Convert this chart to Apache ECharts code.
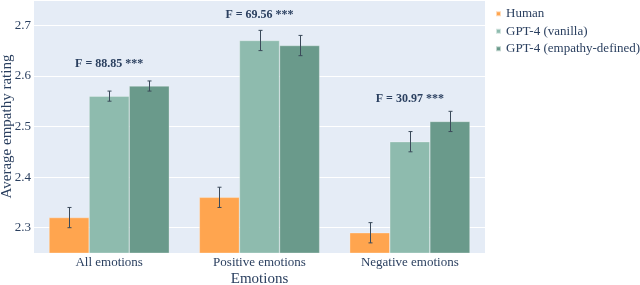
<!DOCTYPE html>
<html>
<head>
<meta charset="utf-8">
<script src="https://cdn.jsdelivr.net/npm/echarts@6/dist/echarts.min.js"></script>
<style>html,body{margin:0;padding:0;background:#fff;}#c{width:640px;height:285px;}</style>
</head>
<body>
<div id="c"></div>
<script>
var categories = ['All emotions', 'Positive emotions', 'Negative emotions'];
var seriesNames = ['Human', 'GPT-4 (vanilla)', 'GPT-4 (empathy-defined)'];
var human = [2.32, 2.36, 2.29];
var vanilla = [2.56, 2.67, 2.47];
var empathy = [2.58, 2.66, 2.51];
var humanErr = [0.02, 0.02, 0.02];
var vanillaErr = [0.01, 0.02, 0.02];
var empathyErr = [0.01, 0.02, 0.02];
var fLabels = ['F = 88.85 ***', 'F = 69.56 ***', 'F = 30.97 ***'];
var fLabelY = [2.623, 2.72, 2.554];
var yTicks = [2.3, 2.4, 2.5, 2.6, 2.7];

var colors = ['#FFA54F', '#8EBBAE', '#6A9A8B'];
var textColor = '#2a3f5f';
var font = '"Liberation Serif", "Times New Roman", serif';

var values = [human, vanilla, empathy];
var errs = [humanErr, vanillaErr, empathyErr];

var errData = [];
for (var s = 0; s < 3; s++) {
  for (var c = 0; c < categories.length; c++) {
    errData.push([c, values[s][c] - errs[s][c], values[s][c] + errs[s][c], s]);
  }
}
var annData = [];
for (var c2 = 0; c2 < categories.length; c2++) {
  annData.push([c2, fLabelY[c2], fLabels[c2]]);
}

var barSeries = seriesNames.map(function (n, i) {
  return {
    name: n,
    type: 'bar',
    data: values[i],
    barGap: '0%',
    barCategoryGap: '20%',
    itemStyle: { color: colors[i], borderColor: 'rgba(255,255,255,0.6)', borderWidth: 0.5 },
    z: 2
  };
});

var chart = echarts.init(document.getElementById('c'), null, { renderer: 'canvas' });
chart.setOption({
  backgroundColor: '#fff',
  animation: false,
  textStyle: { fontFamily: font },
  grid: { left: 34, right: 155, top: 0, bottom: 32, backgroundColor: '#E5ECF6', show: true, borderWidth: 0, containLabel: false, outerBoundsMode: 'none' },
  legend: {
    data: seriesNames,
    orient: 'vertical',
    left: 495,
    top: 3,
    padding: [4, 0, 0, 0],
    icon: 'rect',
    itemWidth: 5,
    itemHeight: 5,
    itemGap: 4,
    textStyle: { fontFamily: font, fontSize: 13, color: textColor, padding: [0, 0, 0, 0], lineHeight: 13.5 }
  },
  xAxis: {
    type: 'category',
    data: categories,
    axisLine: { show: false },
    axisTick: { show: false },
    axisLabel: { fontFamily: font, fontSize: 13, color: textColor, margin: 3 },
    name: 'Emotions',
    nameLocation: 'middle',
    nameGap: 19,
    nameMoveOverlap: false,
    nameTextStyle: { fontFamily: font, fontSize: 15, color: textColor }
  },
  yAxis: {
    type: 'value',
    min: 2.25,
    max: 2.75,
    splitNumber: 5,
    axisLine: { show: false },
    axisTick: { show: false },
    splitLine: { lineStyle: { color: '#ffffff', width: 1 } },
    axisLabel: {
      fontFamily: font, fontSize: 13, color: textColor, margin: 3,
      formatter: function (v) {
        for (var k = 0; k < yTicks.length; k++) {
          if (Math.abs(v - yTicks[k]) < 1e-6) return yTicks[k].toFixed(1);
        }
        return '';
      }
    },
    name: 'Average empathy rating',
    nameLocation: 'middle',
    nameGap: 19,
    nameMoveOverlap: false,
    nameTextStyle: { fontFamily: font, fontSize: 15, color: textColor }
  },
  series: barSeries.concat([
    {
      type: 'custom',
      name: 'err',
      data: errData,
      z: 5,
      encode: { x: 0, y: [1, 2] },
      renderItem: function (params, api) {
        var cat = api.value(0);
        var lo = api.coord([cat, api.value(1)]);
        var hi = api.coord([cat, api.value(2)]);
        var bw = api.size([1, 0])[0] * 0.8 / 3;
        var off = (api.value(3) - 1) * bw;
        var x = Math.round(lo[0] + off) + 0.5;
        var cap = 2;
        var st = { stroke: '#3b4a5a', lineWidth: 1 };
        return {
          type: 'group',
          children: [
            { type: 'line', shape: { x1: x, y1: hi[1], x2: x, y2: lo[1] }, style: st },
            { type: 'line', shape: { x1: x - cap, y1: hi[1], x2: x + cap, y2: hi[1] }, style: st },
            { type: 'line', shape: { x1: x - cap, y1: lo[1], x2: x + cap, y2: lo[1] }, style: st }
          ]
        };
      }
    },
    {
      type: 'custom',
      name: 'ann',
      data: annData,
      z: 6,
      encode: { x: 0, y: 1 },
      renderItem: function (params, api) {
        var p = api.coord([api.value(0), api.value(1)]);
        return {
          type: 'text',
          x: p[0], y: p[1],
          style: {
            text: annData[params.dataIndex][2],
            fill: textColor,
            font: 'bold 12px ' + font,
            textAlign: 'center',
            textVerticalAlign: 'middle'
          }
        };
      }
    }
  ])
});
</script>
</body>
</html>
